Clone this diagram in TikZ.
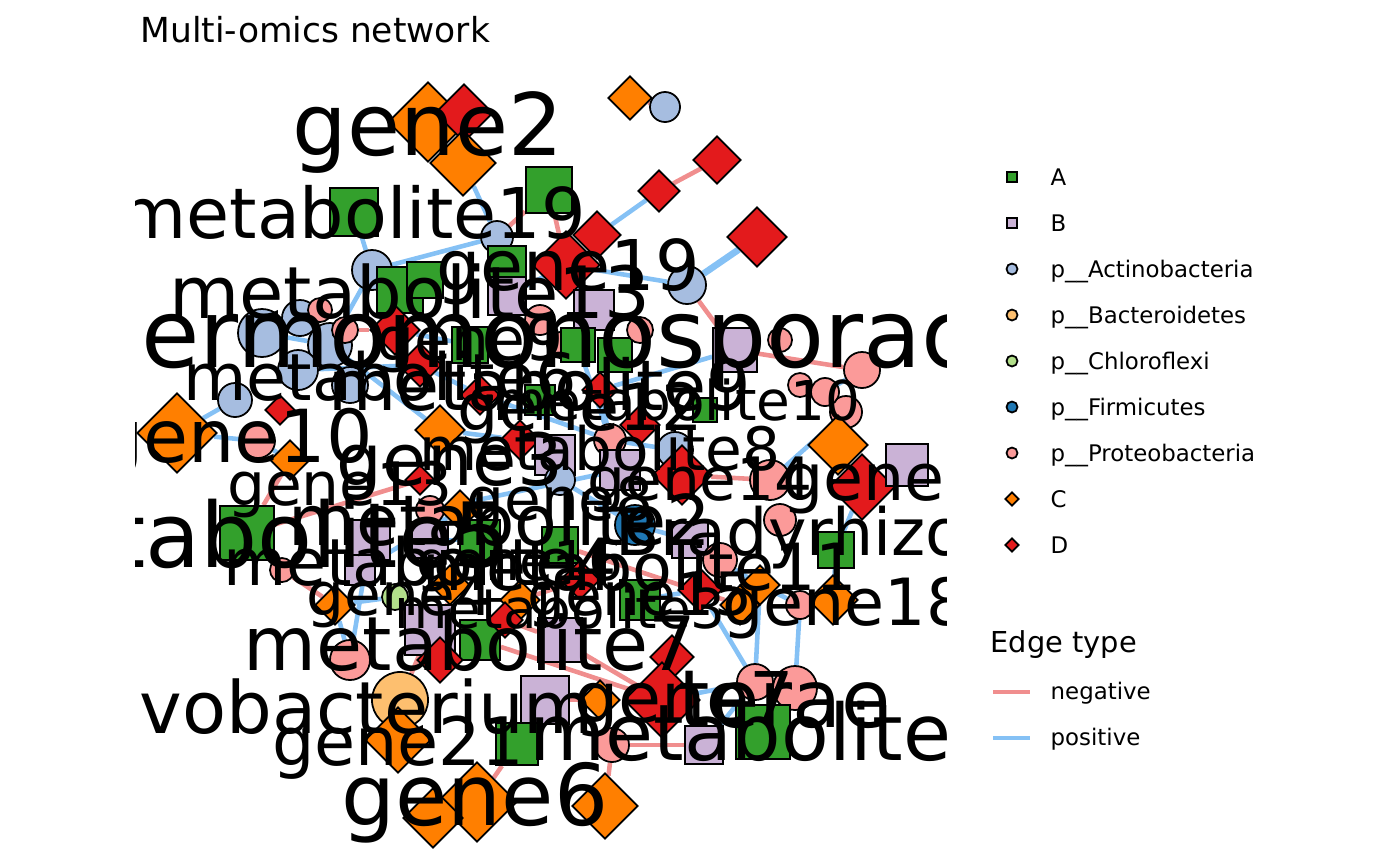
\documentclass[tikz,border=0pt]{standalone}
\usepackage{fontspec}
\setmainfont{DejaVu Sans}
\usetikzlibrary{shapes.geometric, positioning}

\definecolor{colA}{HTML}{33A02C}
\definecolor{colB}{HTML}{CAB2D6}
\definecolor{colAct}{HTML}{A6BDE0}
\definecolor{colBac}{HTML}{FDBF6F}
\definecolor{colChl}{HTML}{B2DF8A}
\definecolor{colFir}{HTML}{1F78B4}
\definecolor{colPro}{HTML}{FB9A99}
\definecolor{colC}{HTML}{FF7F00}
\definecolor{colD}{HTML}{E31A1C}
\definecolor{negcol}{HTML}{F08E8E}
\definecolor{poscol}{HTML}{85C1F5}

\newcommand{\labfont}[1]{\fontsize{#1}{#1}\selectfont}

\pgfdeclarelayer{edges}
\pgfsetlayers{edges,main}

\tikzset{
  sqA/.style={draw, rectangle, fill=colA, inner sep=0pt, line width=0.5pt},
  sqB/.style={draw, rectangle, fill=colB, inner sep=0pt, line width=0.5pt},
  ciAct/.style={draw, circle, fill=colAct, inner sep=0pt, line width=0.5pt},
  ciBac/.style={draw, circle, fill=colBac, inner sep=0pt, line width=0.5pt},
  ciChl/.style={draw, circle, fill=colChl, inner sep=0pt, line width=0.5pt},
  ciFir/.style={draw, circle, fill=colFir, inner sep=0pt, line width=0.5pt},
  ciPro/.style={draw, circle, fill=colPro, inner sep=0pt, line width=0.5pt},
  dmC/.style={draw, diamond, aspect=1, fill=colC, inner sep=0pt, line width=0.5pt},
  dmD/.style={draw, diamond, aspect=1, fill=colD, inner sep=0pt, line width=0.5pt},
  negedge/.style={draw=negcol, line width=1.3pt},
  posedge/.style={draw=poscol, line width=1.3pt},
  lab/.style={anchor=base, inner sep=0pt},
  keytext/.style={anchor=base west, inner sep=0pt, font=\labfont{6.5}},
}

\begin{document}
\begin{tikzpicture}[x=0.01cm, y=-0.01cm]
\useasboundingbox (0,0) rectangle (1400,866);

\node[anchor=base west, inner sep=0pt, font=\labfont{9.8}] (title) at (140,42) {Multi-omics network};

% nodes: top
\node[dmC, minimum size=0.80cm] (c1) at (428,122) {};
\node[dmD, minimum size=0.58cm] (d1) at (464,113) {};
\node[dmC, minimum size=0.66cm] (c2) at (463,163) {};
\node[sqA, minimum size=0.48cm] (a1) at (354,212) {};
\node[sqA, minimum size=0.46cm] (a2) at (549,190) {};
\node[dmC, minimum size=0.44cm] (c3) at (630,98) {};
\node[ciAct, minimum size=0.30cm] (ac1) at (665,107) {};
\node[dmD, minimum size=0.48cm] (d2) at (717,160) {};
\node[dmD, minimum size=0.42cm] (d3) at (659,191) {};
\node[dmD, minimum size=0.60cm] (d4) at (757,237) {};
\node[ciAct, minimum size=0.38cm] (ac2) at (687,285) {};
\node[dmD, minimum size=0.48cm] (d5) at (597,235) {};
\node[dmD, minimum size=0.68cm] (d6) at (566,265) {};
\node[ciAct, minimum size=0.32cm] (ac3) at (497,237) {};
\node[ciAct, minimum size=0.40cm] (ac4) at (372,270) {};
\node[sqA, minimum size=0.46cm] (a3) at (400,290) {};
\node[sqA, minimum size=0.36cm] (a4) at (425,280) {};
\node[sqA, minimum size=0.38cm] (a5) at (507,265) {};
\node[sqB, minimum size=0.38cm] (b1) at (507,296) {};
\node[sqB, minimum size=0.40cm] (b2) at (594,310) {};

% nodes: upper cluster
\node[ciAct, minimum size=0.48cm] (ac5) at (262,333) {};
\node[ciAct, minimum size=0.36cm] (ac6) at (300,318) {};
\node[ciAct, minimum size=0.44cm] (ac7) at (330,345) {};
\node[ciAct, minimum size=0.40cm] (ac8) at (298,370) {};
\node[ciAct, minimum size=0.36cm] (ac9) at (350,385) {};
\node[ciAct, minimum size=0.34cm] (ac10) at (235,400) {};
\node[ciPro, minimum size=0.24cm] (p1) at (320,310) {};
\node[ciPro, minimum size=0.26cm] (p2) at (345,330) {};
\node[dmD, minimum size=0.50cm] (d7) at (395,330) {};
\node[dmD, minimum size=0.44cm] (d8) at (420,365) {};
\node[sqA, minimum size=0.36cm] (a6) at (470,345) {};
\node[ciPro, minimum size=0.30cm] (p3) at (540,320) {};
\node[ciPro, minimum size=0.26cm] (p4) at (560,345) {};
\node[sqA, minimum size=0.34cm] (a7) at (578,345) {};
\node[sqA, minimum size=0.34cm] (a8) at (615,355) {};
\node[ciPro, minimum size=0.26cm] (p5) at (640,330) {};
\node[sqB, minimum size=0.44cm] (b3) at (735,350) {};
\node[ciPro, minimum size=0.24cm] (p6) at (780,340) {};
\node[ciPro, minimum size=0.24cm] (p7) at (800,385) {};
\node[ciPro, minimum size=0.36cm] (p8) at (862,370) {};
\node[ciPro, minimum size=0.32cm] (p9) at (846,412) {};
\node[ciPro, minimum size=0.28cm] (p10) at (825,392) {};
\node[dmD, minimum size=0.40cm] (d9) at (480,395) {};
\node[sqA, minimum size=0.30cm] (a9) at (540,400) {};
\node[dmD, minimum size=0.36cm] (d10) at (600,390) {};
\node[dmD, minimum size=0.40cm] (d11) at (640,425) {};
\node[ciPro, minimum size=0.32cm] (p11) at (610,440) {};
\node[ciAct, minimum size=0.36cm] (ac11) at (675,450) {};
\node[sqA, minimum size=0.24cm] (a10) at (705,410) {};

% nodes: left and middle
\node[dmC, minimum size=0.80cm] (c4) at (177,433) {};
\node[ciPro, minimum size=0.34cm] (p12) at (258,441) {};
\node[dmC, minimum size=0.40cm] (c5) at (290,460) {};
\node[sqA, minimum size=0.54cm] (a11) at (247,533) {};
\node[dmD, minimum size=0.30cm] (d12) at (280,410) {};
\node[dmC, minimum size=0.50cm] (c6) at (440,430) {};
\node[dmD, minimum size=0.40cm] (d13) at (520,440) {};
\node[sqB, minimum size=0.40cm] (b4) at (555,455) {};
\node[dmD, minimum size=0.30cm] (d14) at (420,480) {};
\node[ciPro, minimum size=0.28cm] (p13) at (430,510) {};
\node[dmC, minimum size=0.40cm] (c7) at (460,510) {};
\node[sqB, minimum size=0.40cm] (b5) at (620,470) {};
\node[dmD, minimum size=0.60cm] (d15) at (682,475) {};
\node[dmC, minimum size=0.60cm] (c8) at (838,445) {};
\node[dmD, minimum size=0.66cm] (d16) at (862,487) {};
\node[sqB, minimum size=0.42cm] (b6) at (907,465) {};
\node[ciPro, minimum size=0.40cm] (p14) at (770,480) {};
\node[ciPro, minimum size=0.32cm] (p15) at (780,520) {};
\node[ciAct, minimum size=0.30cm] (ac12) at (560,480) {};
\node[sqB, minimum size=0.40cm] (b7) at (370,540) {};
\node[sqB, minimum size=0.36cm] (b8) at (430,540) {};
\node[sqA, minimum size=0.40cm] (a12) at (480,540) {};
\node[sqA, minimum size=0.36cm] (a13) at (560,545) {};
\node[ciFir, minimum size=0.40cm] (f1) at (635,525) {};
\node[sqB, minimum size=0.36cm] (b9) at (690,540) {};
\node[ciPro, minimum size=0.34cm] (p16) at (720,560) {};
\node[sqA, minimum size=0.36cm] (a14) at (836,550) {};
\node[dmC, minimum size=0.50cm] (c9) at (833,600) {};
\node[ciPro, minimum size=0.28cm] (p17) at (800,605) {};
\node[dmC, minimum size=0.40cm] (c10) at (760,585) {};
\node[ciPro, minimum size=0.24cm] (p18) at (282,570) {};
\node[sqB, minimum size=0.30cm] (b10) at (360,570) {};
\node[ciChl, minimum size=0.26cm] (ch1) at (395,597) {};
\node[dmC, minimum size=0.40cm] (c11) at (335,605) {};
\node[dmC, minimum size=0.40cm] (c12) at (450,585) {};
\node[dmC, minimum size=0.40cm] (c13) at (520,600) {};
\node[dmD, minimum size=0.40cm] (d17) at (580,580) {};
\node[sqA, minimum size=0.40cm] (a15) at (640,600) {};
\node[dmD, minimum size=0.44cm] (d18) at (700,590) {};
\node[dmC, minimum size=0.40cm] (c14) at (740,605) {};
\node[sqB, minimum size=0.50cm] (b11) at (430,630) {};
\node[sqB, minimum size=0.44cm] (b12) at (560,640) {};
\node[sqA, minimum size=0.40cm] (a16) at (480,640) {};
\node[dmD, minimum size=0.36cm] (d19) at (505,620) {};
\node[ciPro, minimum size=0.40cm] (p19) at (350,660) {};
\node[dmD, minimum size=0.46cm] (d20) at (440,660) {};
\node[dmD, minimum size=0.44cm] (d21) at (672,657) {};
\node[dmD, minimum size=0.76cm] (d22) at (662,700) {};
\node[sqB, minimum size=0.48cm] (b13) at (545,700) {};
\node[dmC, minimum size=0.40cm] (c15) at (600,700) {};
\node[ciBac, minimum size=0.56cm] (ba1) at (400,700) {};
\node[ciPro, minimum size=0.36cm] (p20) at (755,682) {};
\node[ciPro, minimum size=0.44cm] (p21) at (795,688) {};

% nodes: bottom
\node[dmC, minimum size=0.66cm] (c16) at (398,740) {};
\node[sqA, minimum size=0.42cm] (a17) at (517,744) {};
\node[ciPro, minimum size=0.34cm] (p22) at (612,745) {};
\node[sqB, minimum size=0.38cm] (b14) at (704,745) {};
\node[sqA, minimum size=0.54cm] (a18) at (763,732) {};
\node[dmC, minimum size=0.80cm] (c17) at (477,802) {};
\node[dmC, minimum size=0.60cm] (c18) at (433,818) {};
\node[dmC, minimum size=0.66cm] (c19) at (605,806) {};

\begin{pgfonlayer}{edges}
\draw[negedge] (c3) -- (ac1);
\draw[negedge] (d2) -- (d3);
\draw[posedge] (d3) -- (d5);
\draw[posedge, line width=1.9pt] (d4) -- (ac2);
\draw[posedge] (ac2) -- (d6);
\draw[negedge] (ac2) -- (b3);
\draw[negedge] (a2) -- (ac3);
\draw[negedge] (a2) -- (d6);
\draw[posedge] (c2) -- (ac3);
\draw[posedge] (a1) -- (ac4);
\draw[posedge] (ac4) -- (ac7);
\draw[posedge] (ac3) -- (a5);
\draw[posedge] (ac3) -- (ac4);
\draw[posedge] (d6) -- (b2);
\draw[posedge] (d6) -- (b1);
\draw[posedge] (ac5) -- (ac7);
\draw[posedge] (ac6) -- (p1);
\draw[posedge] (ac7) -- (c6);
\draw[posedge] (ac8) -- (d8);
\draw[posedge] (ac10) -- (c4);
\draw[posedge] (c4) -- (p12);
\draw[posedge] (p12) -- (c5);
\draw[negedge] (c5) -- (a11);
\draw[negedge] (d7) -- (p2);
\draw[posedge] (d7) -- (a6);
\draw[posedge] (b1) -- (p3);
\draw[posedge] (a7) -- (p11);
\draw[negedge] (b3) -- (p8);
\draw[posedge] (b3) -- (d10);
\draw[posedge] (p8) -- (p10);
\draw[posedge] (d9) -- (p11);
\draw[posedge] (d10) -- (p11);
\draw[posedge] (p11) -- (ac11);
\draw[posedge] (ac11) -- (d15);
\draw[posedge] (p9) -- (p14);
\draw[negedge] (d15) -- (p14);
\draw[posedge] (c6) -- (d13);
\draw[posedge] (d13) -- (b4);
\draw[posedge] (b4) -- (ac12);
\draw[posedge] (ac12) -- (f1);
\draw[posedge] (f1) -- (b9);
\draw[posedge] (b9) -- (p16);
\draw[posedge] (p16) -- (c10);
\draw[posedge] (c10) -- (p17);
\draw[posedge] (p17) -- (c9);
\draw[posedge] (c9) -- (a14);
\draw[posedge] (a14) -- (d16);
\draw[posedge] (c10) -- (p20);
\draw[posedge] (p17) -- (p21);
\draw[posedge] (d18) -- (p20);
\draw[posedge] (p20) -- (d22);
\draw[posedge] (p20) -- (b14);
\draw[posedge] (a18) -- (p21);
\draw[negedge] (d22) -- (b12);
\draw[negedge] (a16) -- (d22);
\draw[negedge] (c12) -- (d20);
\draw[negedge] (ba1) -- (b11);
\draw[posedge] (p19) -- (b7);
\draw[posedge] (p19) -- (c11);
\draw[posedge] (ch1) -- (c11);
\draw[negedge] (c11) -- (p18);
\draw[negedge] (a11) -- (d14);
\draw[negedge] (b13) -- (c15);
\draw[posedge] (a17) -- (b13);
\draw[negedge] (c17) -- (a17);
\draw[negedge] (c19) -- (p22);
\draw[negedge] (p22) -- (b14);
\draw[posedge] (b10) -- (c7);
\draw[negedge] (c13) -- (d17);
\draw[posedge] (a15) -- (d18);
\draw[negedge] (d19) -- (b12);
\draw[posedge] (b8) -- (a12);
\draw[negedge] (a13) -- (c14);
\draw[posedge] (p13) -- (b5);
\draw[posedge] (d8) -- (d9);
\draw[posedge] (p10) -- (p7);
\end{pgfonlayer}

% node labels
\begin{scope}
\clip (135,55) rectangle (946,866);
\node[lab, font=\labfont{24.5}] (l1) at (428,155) {gene2};
\node[lab, font=\labfont{19.9}] (l2) at (352,238) {metabolite19};
\node[lab, font=\labfont{19.9}] (l3) at (568,290) {gene19};
\node[lab, font=\labfont{20.5}] (l4) at (410,318) {metabolite13};
\node[lab, font=\labfont{27}] (l5) at (586,367) {Thermomonosporaceae};
\node[lab, font=\labfont{17}] (l29) at (470,360) {gene9};
\node[lab, font=\labfont{18.5}] (l6) at (380,400) {metabolite6};
\node[lab, font=\labfont{19.9}] (l7) at (540,410) {metabolite9};
\node[lab, font=\labfont{15.6}] (l30) at (677,420) {metabolite10};
\node[lab, font=\labfont{18.5}] (l8) at (580,430) {gene12};
\node[lab, font=\labfont{20.8}] (l9) at (235,462) {gene10};
\node[lab, font=\labfont{17}] (l31) at (600,470) {metabolite8};
\node[lab, font=\labfont{20.5}] (l10) at (450,485) {gene3};
\node[lab, font=\labfont{17}] (l11) at (700,500) {gene14};
\node[lab, font=\labfont{18.5}] (l12) at (905,500) {gene11};
\node[lab, font=\labfont{17}] (l32) at (340,505) {gene13};
\node[lab, font=\labfont{17}] (l13) at (560,520) {gene8};
\node[lab, font=\labfont{19.9}] (l14) at (500,545) {metabolite2};
\node[lab, font=\labfont{18.5}] (l15) at (918,555) {Bradyrhizobiaceae};
\node[lab, font=\labfont{25.6}] (l16) at (239,567) {metabolite5};
\node[lab, font=\labfont{15.6}] (l33) at (520,580) {gene16};
\node[lab, font=\labfont{18.5}] (l17) at (420,585) {metabolite4};
\node[lab, font=\labfont{18.5}] (l18) at (640,590) {metabolite11};
\node[lab, font=\labfont{17}] (l19) at (400,615) {gene4};
\node[lab, font=\labfont{17}] (l20) at (640,615) {gene15};
\node[lab, font=\labfont{18.5}] (l21) at (845,625) {gene18};
\node[lab, font=\labfont{15.6}] (l34) at (560,628) {metabolite3};
\node[lab, font=\labfont{21.3}] (l22) at (470,670) {metabolite7};
\node[lab, font=\labfont{19.9}] (l23) at (684,722) {gene7};
\node[lab, font=\labfont{22.8}] (l24) at (785,727) {terae};
\node[lab, font=\labfont{20.5}] (l25) at (314,733) {Flavobacterium};
\node[lab, font=\labfont{22.2}] (l26) at (790,760) {metabolite17};
\node[lab, font=\labfont{19}] (l27) at (398,765) {gene21};
\node[lab, font=\labfont{24.2}] (l28) at (475,825) {gene6};
\end{scope}

% legend
\node[sqA, minimum size=0.10cm] (keyA) at (1012,177) {};
\node[sqB, minimum size=0.10cm] (keyB) at (1012,223) {};
\node[ciAct, minimum size=0.11cm] (keyAct) at (1012,269) {};
\node[ciBac, minimum size=0.11cm] (keyBac) at (1012,315) {};
\node[ciChl, minimum size=0.11cm] (keyChl) at (1012,361) {};
\node[ciFir, minimum size=0.11cm] (keyFir) at (1012,407) {};
\node[ciPro, minimum size=0.11cm] (keyPro) at (1012,453) {};
\node[dmC, minimum size=0.14cm] (keyC) at (1012,499) {};
\node[dmD, minimum size=0.14cm] (keyD) at (1012,545) {};
\node[keytext] (txtA) at (1050,185) {A};
\node[keytext] (txtB) at (1050,231) {B};
\node[keytext] (txtAct) at (1050,277) {p\_\_Actinobacteria};
\node[keytext] (txtBac) at (1050,323) {p\_\_Bacteroidetes};
\node[keytext] (txtChl) at (1050,369) {p\_\_Chloroflexi};
\node[keytext] (txtFir) at (1050,415) {p\_\_Firmicutes};
\node[keytext] (txtPro) at (1050,461) {p\_\_Proteobacteria};
\node[keytext] (txtC) at (1050,507) {C};
\node[keytext] (txtD) at (1050,553) {D};

\node[anchor=base west, inner sep=0pt, font=\labfont{8.2}] (edgetitle) at (990,652) {Edge type};
\coordinate (negL) at (993,692);
\coordinate (negR) at (1030,692);
\coordinate (posL) at (993,738);
\coordinate (posR) at (1030,738);
\draw[negedge, line width=0.9pt] (negL) -- (negR);
\draw[posedge, line width=0.9pt] (posL) -- (posR);
\node[keytext] (txtneg) at (1050,699) {negative};
\node[keytext] (txtpos) at (1050,745) {positive};
\end{tikzpicture}
\end{document}
